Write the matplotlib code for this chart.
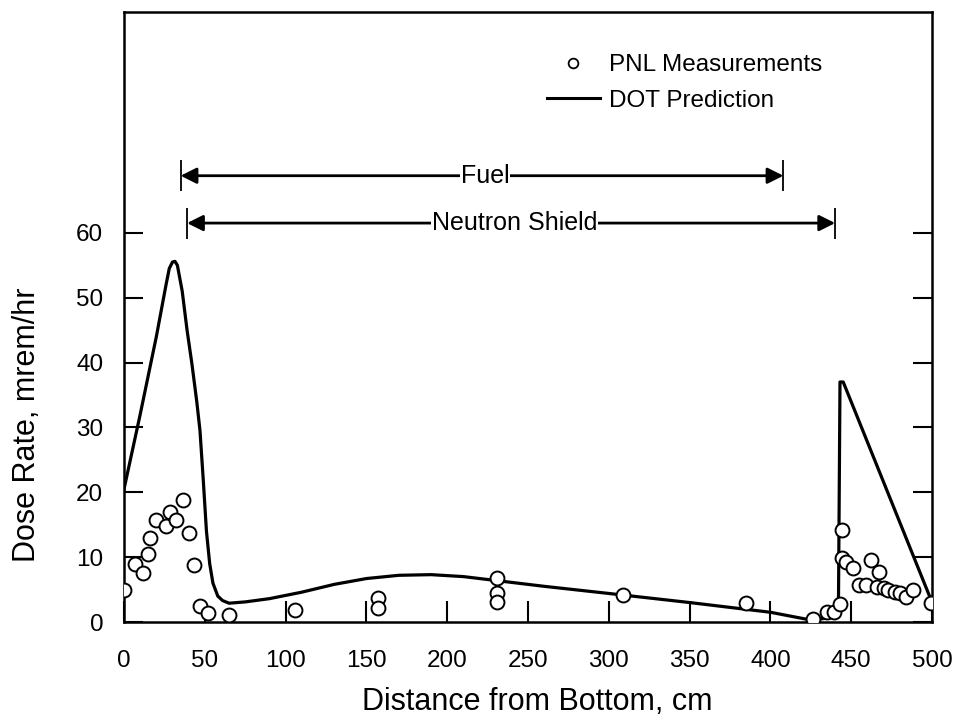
import matplotlib
matplotlib.use("Agg")
import matplotlib.pyplot as plt
from matplotlib.lines import Line2D

plt.rcParams['font.family'] = ['Liberation Sans', 'DejaVu Sans']

# PNL measurements (open circles)
pnl_x = [0, 7, 12, 15, 16, 20, 26, 28.5, 32, 36.5, 40, 43, 47, 52, 65,
         106, 157, 157, 231, 231, 231, 309, 385, 426,
         435, 439, 443, 444, 444, 447, 451, 455, 459, 462, 466, 467,
         470, 473, 477, 480, 484, 488, 499]
pnl_y = [5, 9, 7.5, 10.5, 13, 15.7, 14.8, 17, 15.7, 18.8, 13.7, 8.8, 2.5, 1.4, 1.1,
         1.8, 3.7, 2.2, 6.8, 4.4, 3.1, 4.2, 2.9, 0.4,
         1.6, 1.5, 2.8, 14.2, 9.8, 9.2, 8.3, 5.7, 5.7, 9.5, 5.4, 7.7,
         5.2, 4.9, 4.6, 4.4, 3.9, 4.9, 2.9]

# DOT prediction (solid line)
dot_x = [0, 10, 20, 26, 28, 30, 31.5, 33, 36, 39, 42, 45, 47, 49, 51, 53, 55, 58, 61, 65,
         75, 90, 110, 130, 150, 170, 190, 210, 230, 260, 300, 350, 400, 425, 442, 443, 445, 500]
dot_y = [20.5, 32, 44, 52, 54.5, 55.5, 55.6, 55, 51, 45, 39.8, 34, 29.5, 22, 14, 9, 6, 4, 3.3, 2.9,
         3.1, 3.6, 4.6, 5.8, 6.7, 7.2, 7.3, 7.0, 6.4, 5.5, 4.4, 3.0, 1.5, 0.3, 0.8, 37, 37, 3]

# region spans (start, end) and heights
fuel_span = (35, 408)
fuel_y = 68.8
shield_span = (39, 440)
shield_y = 61.5

fig = plt.figure(figsize=(9.57, 7.21), dpi=100)
ax = fig.add_axes([0.1296, 0.1373, 0.8444, 0.8457])

ax.plot(dot_x, dot_y, color='black', lw=2.3, solid_joinstyle='round', zorder=3)
ax.plot(pnl_x, pnl_y, linestyle='none', marker='o', markersize=10,
        markerfacecolor='white', markeredgecolor='black', markeredgewidth=1.4, zorder=4)

for (x0, x1), yy, label in [(fuel_span, fuel_y, 'Fuel'), (shield_span, shield_y, 'Neutron Shield')]:
    ax.annotate('', xy=(x1, yy), xytext=(x0, yy),
                arrowprops=dict(arrowstyle='<|-|>', lw=2, color='black',
                                mutation_scale=24, shrinkA=0, shrinkB=0))
    ax.vlines([x0, x1], yy - 2.4, yy + 2.4, color='black', lw=1.3)
    ax.text((x0 + x1) / 2 + 2, yy, label, ha='center', va='center', fontsize=18,
            bbox=dict(facecolor='white', edgecolor='none', pad=0.3))

handles = [Line2D([], [], linestyle='none', marker='o', markersize=7,
                  markerfacecolor='white', markeredgecolor='black', markeredgewidth=1.3),
           Line2D([], [], color='black', lw=2.2)]
ax.legend(handles, ['PNL Measurements', 'DOT Prediction'], loc='upper left',
          bbox_to_anchor=(0.496, 0.967), frameon=False, fontsize=17.5,
          handlelength=2.2, handletextpad=0.37, labelspacing=0.55)

ax.set_xlim(0, 500)
ax.set_ylim(0, 94)
ax.set_xticks(range(0, 501, 50))
ax.set_yticks(range(0, 61, 10))
ax.tick_params(axis='both', direction='in', labelsize=17.5, width=1.5)
ax.tick_params(axis='y', length=14, pad=15, right=True)
ax.tick_params(axis='x', length=15, pad=20)
for sp in ax.spines.values():
    sp.set_linewidth(1.8)

ax.set_xlabel('Distance from Bottom, cm', fontsize=22)
ax.set_ylabel('Dose Rate, mrem/hr', fontsize=22)
ax.xaxis.set_label_coords(0.511, -0.106)
ax.yaxis.set_label_coords(-0.101, 0.323)

fig.savefig('out.png', dpi=100)
